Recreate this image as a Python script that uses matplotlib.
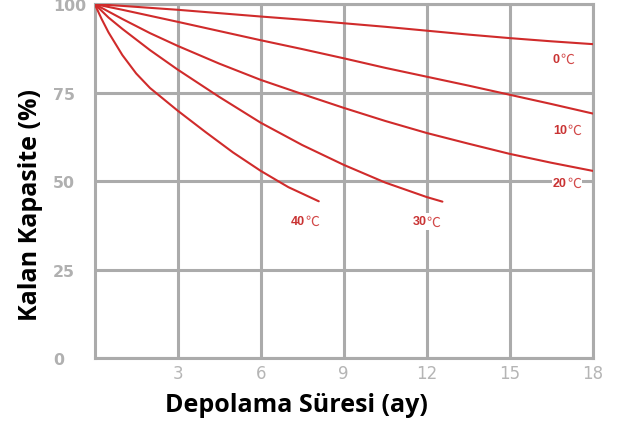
import matplotlib.pyplot as plt

# values (months, remaining capacity %)
x_0c = [0, 1, 3, 6, 7.5, 9, 10.5, 12, 13.5, 15, 16.5, 18]
y_0c = [100, 99.5, 98.4, 96.5, 95.6, 94.6, 93.6, 92.5, 91.4, 90.4, 89.5, 88.7]

x_10c = [0, 1, 2, 3, 4.5, 6, 7.5, 9, 10.5, 12, 13.5, 15, 16.5, 18]
y_10c = [100, 98.4, 96.7, 95.0, 92.4, 89.8, 87.3, 84.7, 82.0, 79.5, 77.0, 74.4, 71.8, 69.1]

x_20c = [0, 1, 2, 3, 4.5, 6, 7.5, 9, 10.5, 12, 13.5, 15, 16.5, 18]
y_20c = [100, 95.8, 91.8, 88.2, 83.2, 78.6, 74.6, 70.7, 67.0, 63.6, 60.6, 57.7, 55.2, 52.9]

x_30c = [0, 0.5, 1, 2, 3, 4.5, 6, 7.5, 9, 10.5, 12, 12.57]
y_30c = [100, 96.2, 93.0, 87.0, 81.5, 73.8, 66.5, 60.2, 54.6, 49.6, 45.5, 44.2]

x_40c = [0, 0.25, 0.5, 1, 1.5, 2, 3, 4, 5, 6, 7, 8.1]
y_40c = [100, 95.8, 92.0, 85.6, 80.4, 76.3, 69.9, 63.9, 58.1, 52.9, 48.3, 44.3]

temp_nums = ["0", "10", "20", "30", "40"]
label_x = [16.56, 16.56, 16.56, 11.48, 7.08]
label_y = [84.5, 64.5, 49.5, 38.6, 38.8]

x_ticks = [3, 6, 9, 12, 15, 18]
y_ticks = [0, 25, 50, 75, 100]

red = "#d02b2b"
grey = "#ababab"

fig = plt.figure(figsize=(6.17, 4.27), dpi=100)
ax = fig.add_axes([0.1535, 0.159, 0.807, 0.829])

for xs, ys in [(x_0c, y_0c), (x_10c, y_10c), (x_20c, y_20c),
               (x_30c, y_30c), (x_40c, y_40c)]:
    ax.plot(xs, ys, color=red, linewidth=1.5, zorder=3,
            solid_joinstyle="round", solid_capstyle="round")

for num, lx, ly in zip(temp_nums, label_x, label_y):
    t = ax.text(lx, ly, num, color="#c93333", fontsize=9, fontweight="bold",
                family="Liberation Sans", ha="left", va="center", zorder=5,
                bbox=dict(facecolor="white", edgecolor="none", pad=0.3))
    # degree sign drawn underneath so its white box doesn't hide the digits
    ax.annotate("℃", xy=(1, 0.5), xycoords=t, xytext=(0.3, 0),
                textcoords="offset points", color="#d24a4a", fontsize=10,
                family="Noto Sans CJK SC", fontweight="light",
                ha="left", va="center", zorder=4,
                bbox=dict(facecolor="white", edgecolor="none", pad=1.0))

ax.set_xlim(0, 18)
ax.set_ylim(0, 100)
ax.set_xticks(x_ticks)
ax.set_yticks(y_ticks)
ax.set_xticklabels([str(t) for t in x_ticks], color="#b5b5b5", fontsize=12,
                   family="DejaVu Sans")
ax.set_yticklabels([str(t) for t in y_ticks], color="#b0b0b0", fontsize=11.4,
                   fontweight="bold", family="DejaVu Sans", ha="left")
ax.tick_params(axis="x", length=0, pad=4)
ax.tick_params(axis="y", length=0, pad=30)

ax.grid(True, color=grey, linewidth=2.2, zorder=1)
for s in ax.spines.values():
    s.set_color(grey)
    s.set_linewidth(2.2)

fig.text(0.48, 0.05, "Depolama Süresi (ay)", fontsize=18, fontweight="bold",
         family="Open Sans", ha="center", va="center")
fig.text(0.049, 0.52, "Kalan Kapasite (%)", fontsize=18, fontweight="bold",
         family="Open Sans", ha="center", va="center", rotation=90)

fig.savefig("out.png", dpi=100)
